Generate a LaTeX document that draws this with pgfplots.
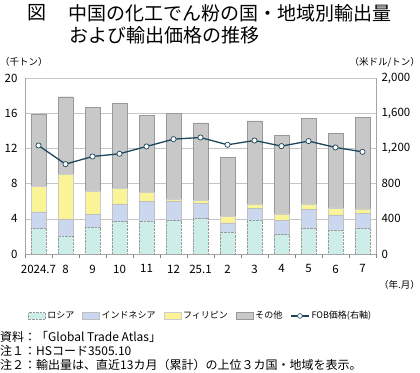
\documentclass[border=0pt]{standalone}
\usepackage{pgfplots}
\pgfplotsset{compat=1.18}
\usepackage{fontspec}
\setmainfont{Noto Sans CJK JP}
\definecolor{cRus}{RGB}{205,238,232}
\definecolor{cIdn}{RGB}{202,215,238}
\definecolor{cPhl}{RGB}{250,244,150}
\definecolor{cOth}{RGB}{200,200,200}
\definecolor{lineblue}{RGB}{28,72,92}
\begin{document}
\begin{tikzpicture}
\path[use as bounding box] (0pt,0pt) rectangle (420pt,372pt);
\begin{axis}[
  at={(25pt,118pt)}, anchor=south west, scale only axis,
  width=351pt, height=176pt,
  ymin=0, ymax=20, ytick={0,4,...,20},
  xmin=-0.5, xmax=12.5,
  ybar stacked, bar width=14.7pt,
  xtick={0,...,12},
  xticklabels={2024.7,8,9,10,11,12,25.1,2,3,4,5,6,7},
  major x tick style={draw=none},
  minor xtick={-0.5,0.5,...,12.5},
  minor tick length=4pt,
  xtick align=outside,
  axis x line*=bottom, axis y line*=left,
  axis line style={gray!70, -},
  ytick style={draw=none},
  ymajorgrids, grid style={gray!45},
  tick label style={font=\fontsize{11.5}{12}\selectfont},
  /pgf/number format/assume math mode=true,
  yticklabel style={xshift=-4pt},
  xticklabel style={yshift=-3pt},
  legend columns=5,
  legend style={draw=none, at={(0.5,-0.352)}, anchor=center,
    font=\fontsize{9}{10}\selectfont, inner sep=0pt,
    /tikz/every even column/.append style={column sep=6pt}},
  legend image code/.code={\draw[#1] (0pt,-3.3pt) rectangle (17pt,3.3pt);},
]
\addplot[fill=cRus, draw=gray!80, densely dotted] coordinates {(0,2.92)(1,2.05)(2,3.04)(3,3.72)(4,3.76)(5,3.80)(6,4.06)(7,2.50)(8,3.87)(9,2.20)(10,2.92)(11,2.73)(12,2.92)};
\addlegendentry{ロシア}
\addplot[fill=cIdn, draw=gray!50] coordinates {(0,1.86)(1,1.90)(2,1.48)(3,1.93)(4,2.24)(5,2.23)(6,1.67)(7,1.03)(8,1.33)(9,1.63)(10,2.17)(11,1.71)(12,1.71)};
\addlegendentry{インドネシア}
\addplot[fill=cPhl, draw=gray!40] coordinates {(0,2.89)(1,5.12)(2,2.65)(3,1.83)(4,0.98)(5,0.23)(6,0.38)(7,0.76)(8,0.49)(9,0.72)(10,0.60)(11,0.80)(12,0.49)};
\addlegendentry{フィリピン}
\addplot[fill=cOth, draw=gray!80] coordinates {(0,8.23)(1,8.80)(2,9.53)(3,9.67)(4,8.77)(5,9.74)(6,8.79)(7,6.68)(8,9.45)(9,8.92)(10,9.72)(11,8.46)(12,10.44)};
\addlegendentry{その他}
\addlegendimage{legend image code/.code={\draw[lineblue, line width=1.2pt] (0pt,0pt)--(18pt,0pt); \node[circle, draw=lineblue, fill=white, inner sep=1.3pt, line width=0.6pt] at (9pt,0pt) {};}}
\addlegendentry{FOB価格(右軸)}
\end{axis}
\begin{axis}[
  at={(25pt,118pt)}, anchor=south west, scale only axis,
  width=351pt, height=176pt,
  xmin=-0.5, xmax=12.5,
  ymin=0, ymax=2000, ytick={0,400,...,2000},
  scaled y ticks=false,
  axis y line*=right, axis x line=none,
  axis line style={gray!70, -},
  ytick style={draw=none},
  tick label style={font=\fontsize{11.5}{12}\selectfont},
  /pgf/number format/assume math mode=true,
  /pgf/number format/1000 sep={,},
  yticklabel style={xshift=2pt},
]
\addplot[lineblue, line width=1.3pt, mark=*, mark size=2.6pt, mark options={fill=white, draw=lineblue, line width=0.7pt}] coordinates {(0,1233)(1,1021)(2,1108)(3,1139)(4,1222)(5,1305)(6,1324)(7,1241)(8,1290)(9,1226)(10,1283)(11,1211)(12,1161)};
\end{axis}
\node[anchor=west, font=\fontsize{19}{20}\selectfont, inner sep=0pt] at (27pt,359pt) {図};
\node[anchor=west, font=\fontsize{19}{20}\selectfont, inner sep=0pt] at (68pt,359pt) {中国の化工でん粉の国・地域別輸出量};
\node[anchor=west, font=\fontsize{19}{20}\selectfont, inner sep=0pt] at (69pt,337pt) {および輸出価格の推移};
\node[anchor=west, font=\fontsize{9.5}{10}\selectfont, inner sep=0pt] at (0pt,310pt) {（千トン）};
\node[anchor=east, font=\fontsize{9.5}{10}\selectfont, inner sep=0pt] at (420pt,310pt) {（米ドル/トン）};
\node[anchor=east, font=\fontsize{9.5}{10}\selectfont, inner sep=0pt] at (420pt,87pt) {（年.月）};
\node[anchor=west, font=\fontsize{12}{13}\selectfont, inner sep=0pt] at (0pt,35pt) {資料：「Global Trade Atlas」};
\node[anchor=west, font=\fontsize{12}{13}\selectfont, inner sep=0pt] at (0pt,21pt) {注１：HSコード3505.10};
\node[anchor=west, font=\fontsize{12}{13}\selectfont, inner sep=0pt] at (0pt,7pt) {注２：輸出量は、直近13カ月（累計）の上位３カ国・地域を表示。};
\end{tikzpicture}
\end{document}
